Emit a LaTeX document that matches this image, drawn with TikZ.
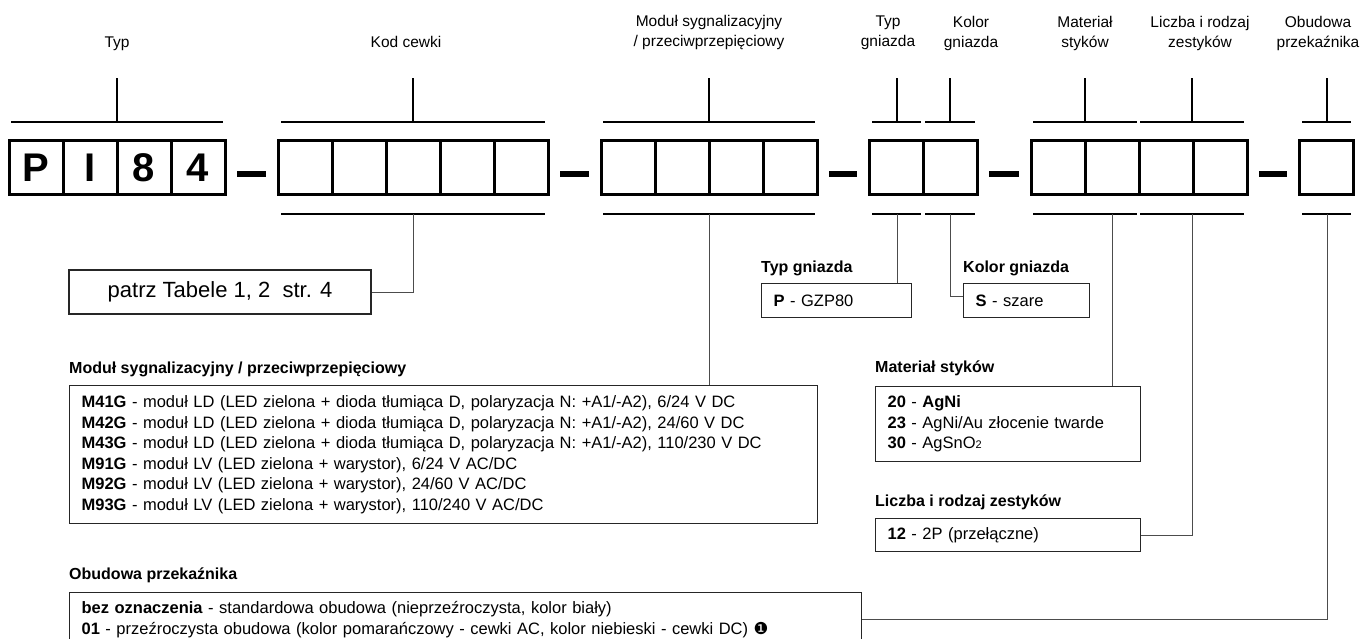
\documentclass[tikz,border=0pt]{standalone}
\usepackage{fontspec}
\setmainfont{Liberation Sans}
\newfontfamily\dingfont{DejaVu Sans}

\begin{document}
\begin{tikzpicture}[x=1pt,y=-1pt]
	\tikzstyle{cell} = [rectangle, draw, line width=3pt, minimum width=54pt, minimum height=54pt, inner sep=0pt, outer sep=0pt, font=\fontsize{40}{40}\selectfont\bfseries]
	\tikzstyle{hyphen} = [draw, line width=6pt, shorten <=12pt, shorten >=12pt]
	\tikzstyle{bracket} = [draw, line width=1.4pt]
	\tikzstyle{tick} = [draw, line width=1.3pt]
	\tikzstyle{connector} = [draw, line width=1pt, black!70]
	\tikzstyle{toplabel} = [align=center, font=\fontsize{15.5}{20}\selectfont]
	\tikzstyle{heading} = [anchor=west, inner sep=0pt, font=\fontsize{16}{18}\selectfont\bfseries]
	\tikzstyle{infobox} = [rectangle, draw=black!85, line width=1.2pt, anchor=north west, align=left, inner xsep=12pt, inner ysep=0pt, font=\fontsize{16.5}{20.5}\selectfont]
	\useasboundingbox (0,0) rectangle (1363,639);
	% labels on top
	\node [toplabel, anchor=base] at (117,48) (typlbl) {Typ};
	\node [toplabel, anchor=base] at (406,48) (kodlbl) {Kod cewki};
	\node [toplabel] at (709,33) (modlbl) {Moduł sygnalizacyjny\\/ przeciwprzepięciowy};
	\node [toplabel] at (888,33) (socklbl) {Typ\\gniazda};
	\node [toplabel] at (971,33) (collbl) {Kolor\\gniazda};
	\node [toplabel] at (1085,33) (matlbl) {Materiał\\styków};
	\node [toplabel] at (1200,33) (setlbl) {Liczba i rodzaj\\zestyków};
	\node [toplabel] at (1318,33) (houslbl) {Obudowa\\przekaźnika};
	% code cells
	\node [cell] at (36,168) (p1) {P};
	\node [cell] at (90,168) (p2) {I};
	\node [cell] at (144,168) (p3) {8};
	\node [cell] at (198,168) (p4) {4};
	\node [cell] at (305,168) (k1) {};
	\node [cell] at (359,168) (k2) {};
	\node [cell] at (413,168) (k3) {};
	\node [cell] at (467,168) (k4) {};
	\node [cell] at (521,168) (k5) {};
	\node [cell] at (628,168) (m1) {};
	\node [cell] at (682,168) (m2) {};
	\node [cell] at (736,168) (m3) {};
	\node [cell] at (790,168) (m4) {};
	\node [cell] at (896,168) (g1) {};
	\node [cell] at (950,168) (g2) {};
	\node [cell] at (1058,168) (s1) {};
	\node [cell] at (1112,168) (s2) {};
	\node [cell] at (1166,168) (s3) {};
	\node [cell] at (1220,168) (s4) {};
	\node [cell] at (1326,168) (o1) {};
	\path [hyphen] ([yshift=-6pt]p4.east) -- ([yshift=-6pt]k1.west);
	\path [hyphen] ([yshift=-6pt]k5.east) -- ([yshift=-6pt]m1.west);
	\path [hyphen] ([yshift=-6pt]m4.east) -- ([yshift=-6pt]g1.west);
	\path [hyphen] ([yshift=-6pt]g2.east) -- ([yshift=-6pt]s1.west);
	\path [hyphen] ([yshift=-6pt]s4.east) -- ([yshift=-6pt]o1.west);
	% brackets above and below
	\path [bracket] (11,122) -- (223,122);
	\path [bracket] (281,122) -- (545,122);
	\path [bracket] (281,214) -- (545,214);
	\path [bracket] (603,122) -- (815,122);
	\path [bracket] (603,214) -- (815,214);
	\path [bracket] (872,122) -- (921,122);
	\path [bracket] (872,214) -- (921,214);
	\path [bracket] (925,122) -- (975,122);
	\path [bracket] (925,214) -- (975,214);
	\path [bracket] (1033,122) -- (1137,122);
	\path [bracket] (1033,214) -- (1137,214);
	\path [bracket] (1140,122) -- (1244,122);
	\path [bracket] (1140,214) -- (1244,214);
	\path [bracket] (1302,122) -- (1351,122);
	\path [bracket] (1302,214) -- (1351,214);
	\coordinate (typtop) at (117,122);
	\coordinate (kodtop) at (413,122);
	\coordinate (modtop) at (709,122);
	\coordinate (socktop) at (897,122);
	\coordinate (coltop) at (950,122);
	\coordinate (mattop) at (1085,122);
	\coordinate (settop) at (1192,122);
	\coordinate (houstop) at (1327,122);
	\path [tick] (typtop) -- ++(0,-44);
	\path [tick] (kodtop) -- ++(0,-44);
	\path [tick] (modtop) -- ++(0,-44);
	\path [tick] (socktop) -- ++(0,-44);
	\path [tick] (coltop) -- ++(0,-44);
	\path [tick] (mattop) -- ++(0,-44);
	\path [tick] (settop) -- ++(0,-44);
	\path [tick] (houstop) -- ++(0,-44);
	% option boxes
	\node [rectangle, draw=black!85, line width=1.2pt, minimum width=302pt, minimum height=44pt, font=\fontsize{22}{22}\selectfont] at (220,292) (coilbox) {patrz Tabele 1, 2~~str. 4};
	\node [heading] at (69,369) (modhead) {Moduł sygnalizacyjny / przeciwprzepięciowy};
	\node [infobox, text width=724pt, minimum height=138pt] at (69,385) (modbox) {\textbf{M41G} - moduł LD (LED zielona + dioda tłumiąca D, polaryzacja N: +A1/-A2), 6/24 V DC\\
		\textbf{M42G} - moduł LD (LED zielona + dioda tłumiąca D, polaryzacja N: +A1/-A2), 24/60 V DC\\
		\textbf{M43G} - moduł LD (LED zielona + dioda tłumiąca D, polaryzacja N: +A1/-A2), 110/230 V DC\\
		\textbf{M91G} - moduł LV (LED zielona + warystor), 6/24 V AC/DC\\
		\textbf{M92G} - moduł LV (LED zielona + warystor), 24/60 V AC/DC\\
		\textbf{M93G} - moduł LV (LED zielona + warystor), 110/240 V AC/DC};
	\node [heading] at (761,268) (sockhead) {Typ gniazda};
	\node [infobox, text width=126pt, minimum height=34pt] at (761,283) (sockbox) {\textbf{P} - GZP80};
	\node [heading] at (963,268) (colhead) {Kolor gniazda};
	\node [infobox, text width=102pt, minimum height=34pt] at (963,283) (colbox) {\textbf{S} - szare};
	\node [heading] at (875,368) (mathead) {Materiał styków};
	\node [infobox, text width=241pt, minimum height=75pt] at (875,386) (matbox) {\textbf{20} - \textbf{AgNi}\\
		\textbf{23} - AgNi/Au złocenie twarde\\
		\textbf{30} - AgSnO{\fontsize{11}{11}\selectfont 2}};
	\node [heading] at (875,502) (sethead) {Liczba i rodzaj zestyków};
	\node [infobox, text width=241pt, minimum height=33pt] at (875,518) (setbox) {\textbf{12} - 2P (przełączne)};
	\node [heading] at (69,575) (houshead) {Obudowa przekaźnika};
	\node [infobox, text width=768pt, minimum height=54pt] at (69,592) (housbox) {\textbf{bez oznaczenia} - standardowa obudowa (nieprzeźroczysta, kolor biały)\\
		\textbf{01} - przeźroczysta obudowa (kolor pomarańczowy - cewki AC, kolor niebieski - cewki DC) {\dingfont ❶}};
	% connectors to the boxes
	\coordinate (kodbot) at (413,214);
	\coordinate (modbot) at (709,214);
	\coordinate (sockbot) at (897,214);
	\coordinate (colbot) at (950,214);
	\coordinate (matbot) at (1112,214);
	\coordinate (setbot) at (1192,214);
	\coordinate (housbot) at (1327,214);
	\path [connector] (kodbot) |- (coilbox.east);
	\path [connector] (modbot) -- (modbot |- modbox.north);
	\path [connector] (sockbot) -- (sockbot |- sockbox.north);
	\path [connector] (colbot) |- ([yshift=4pt]colbox.west);
	\path [connector] (matbot) -- (matbot |- matbox.north);
	\path [connector] (setbot) |- (setbox.east);
	\path [connector] (housbot) |- (housbox.east);
\end{tikzpicture}
\end{document}
